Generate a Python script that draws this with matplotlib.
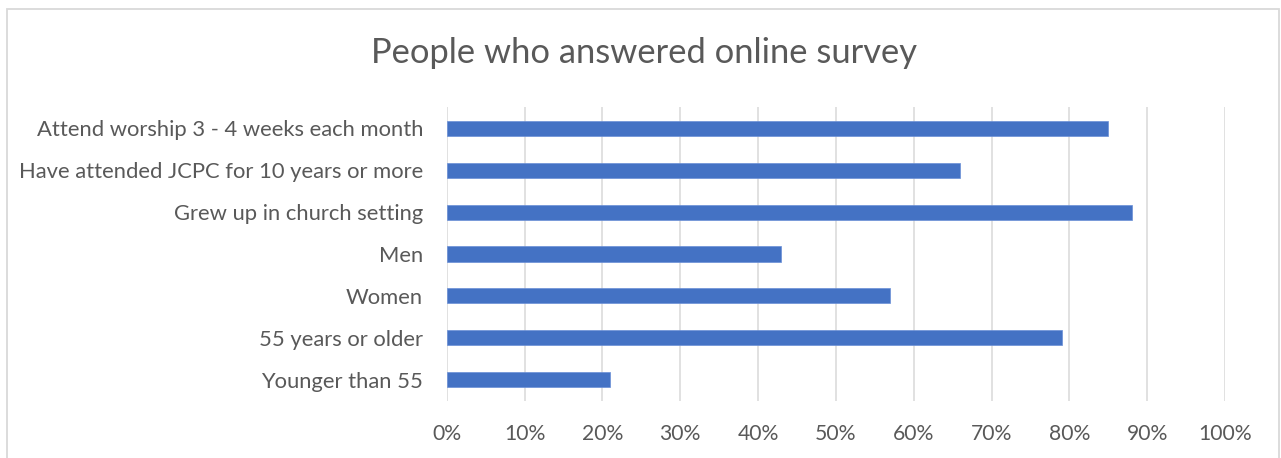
import matplotlib
matplotlib.use("Agg")
import matplotlib.pyplot as plt
from matplotlib.patches import Rectangle
from matplotlib.ticker import PercentFormatter, MultipleLocator

categories = [
    "Attend worship 3 - 4 weeks each month",
    "Have attended JCPC for 10 years or more",
    "Grew up in church setting",
    "Men",
    "Women",
    "55 years or older",
    "Younger than 55",
]
values = [0.85, 0.66, 0.88, 0.43, 0.57, 0.79, 0.21]
title = "People who answered online survey"

W, H = 1281, 458
fig = plt.figure(figsize=(W / 100, H / 100), dpi=100)
fig.patch.set_facecolor("white")

# chart border
fig.patches.append(Rectangle((6.5 / W, -0.05), (1279 - 6.5) / W, (H - 9) / H + 0.05,
                             transform=fig.transFigure, fill=False,
                             edgecolor="#d9d9d9", linewidth=1.3, clip_on=False))

ax = fig.add_axes([446.7 / W, 57.3 / H, 778.3 / W, 293.4 / H])
n = len(categories)
ypos = list(range(n))[::-1]
ax.barh(ypos, values, height=0.36, color="#4472C4", edgecolor="#6a8fd6", linewidth=0.5, zorder=3)

ax.set_xlim(0, 1)
ax.set_ylim(-0.5, n - 0.5)
ax.xaxis.set_major_locator(MultipleLocator(0.1))
ax.xaxis.set_major_formatter(PercentFormatter(1.0, decimals=0))
ax.set_yticks(ypos)
ax.set_yticklabels(categories)

font = "Lato"
for lab in ax.get_yticklabels():
    lab.set_fontfamily(font)
    lab.set_fontsize(15.8)
    lab.set_color("#595959")
for lab in ax.get_xticklabels():
    lab.set_fontfamily(font)
    lab.set_fontsize(15.2)
    lab.set_color("#595959")

ax.tick_params(axis="both", length=0)
ax.tick_params(axis="y", pad=17)
ax.tick_params(axis="x", pad=17)
ax.grid(axis="x", color="#d9d9d9", linewidth=1.1, zorder=0)
ax.grid(axis="y", visible=False)
for s in ax.spines.values():
    s.set_visible(False)

fig.text(0.5027, 1 - 53 / H, title, ha="center", va="center",
         fontsize=24.8, color="#595959", family=font)

fig.savefig("out.png", dpi=100, facecolor="white")
